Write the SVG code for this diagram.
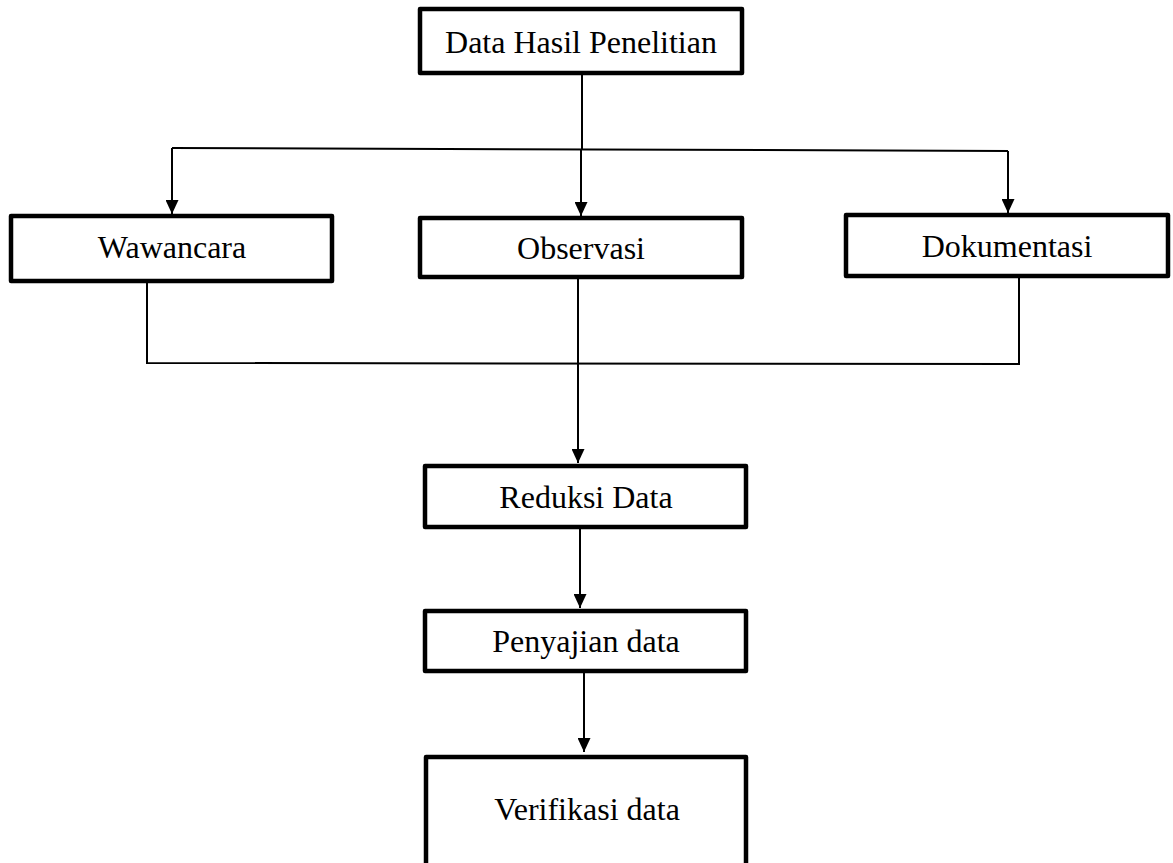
<svg xmlns="http://www.w3.org/2000/svg" width="1173" height="863" viewBox="0 0 1173 863">
  <style>
    .box { fill: #ffffff; stroke: #000000; stroke-width: 4.5; stroke-linejoin: round; }
    .lbl { font-family: "Liberation Serif", "Times New Roman", serif; font-size: 32px; fill: #000000; text-anchor: middle; }
    .wire { fill: none; stroke: #000000; stroke-width: 2; }
  </style>
  <defs>
    <marker id="arrow" markerWidth="14" markerHeight="13" refX="14" refY="6.5" orient="auto" markerUnits="userSpaceOnUse">
      <path d="M0,0 L14,6.5 L0,13 Z" fill="#000000"/>
    </marker>
  </defs>

  <rect width="1173" height="863" fill="#ffffff"/>

  <g id="connectors">
    <!-- source down to the split line -->
    <line class="wire" x1="582" y1="75" x2="582" y2="149"/>
    <!-- split line -->
    <line class="wire" x1="172" y1="148" x2="1008" y2="151"/>
    <line class="wire" x1="172" y1="148" x2="172" y2="214" marker-end="url(#arrow)"/>
    <line class="wire" x1="581" y1="149.5" x2="581" y2="216" marker-end="url(#arrow)"/>
    <line class="wire" x1="1008" y1="151" x2="1008" y2="213" marker-end="url(#arrow)"/>
    <!-- merge line -->
    <polyline class="wire" points="147,283 147,363 1019,364 1019,278"/>
    <line class="wire" x1="578" y1="279" x2="578" y2="463" marker-end="url(#arrow)"/>
    <line class="wire" x1="580" y1="529" x2="580" y2="608" marker-end="url(#arrow)"/>
    <line class="wire" x1="584" y1="673" x2="584" y2="752" marker-end="url(#arrow)"/>
  </g>

  <g id="node-data-hasil">
    <rect class="box" x="420" y="9" width="322" height="64"/>
    <text class="lbl" x="581" y="53">Data Hasil Penelitian</text>
  </g>
  <g id="node-wawancara">
    <rect class="box" x="11" y="216" width="321" height="65"/>
    <text class="lbl" x="172" y="258">Wawancara</text>
  </g>
  <g id="node-observasi">
    <rect class="box" x="420" y="218" width="322" height="59"/>
    <text class="lbl" x="581" y="259">Observasi</text>
  </g>
  <g id="node-dokumentasi">
    <rect class="box" x="846" y="215" width="322" height="61"/>
    <text class="lbl" x="1007" y="257">Dokumentasi</text>
  </g>
  <g id="node-reduksi">
    <rect class="box" x="425" y="466" width="321" height="61"/>
    <text class="lbl" x="586" y="508">Reduksi Data</text>
  </g>
  <g id="node-penyajian">
    <rect class="box" x="425" y="611" width="321" height="60"/>
    <text class="lbl" x="586" y="652">Penyajian data</text>
  </g>
  <g id="node-verifikasi">
    <rect class="box" x="426" y="757" width="320" height="120"/>
    <text class="lbl" x="587" y="820">Verifikasi data</text>
  </g>
</svg>
